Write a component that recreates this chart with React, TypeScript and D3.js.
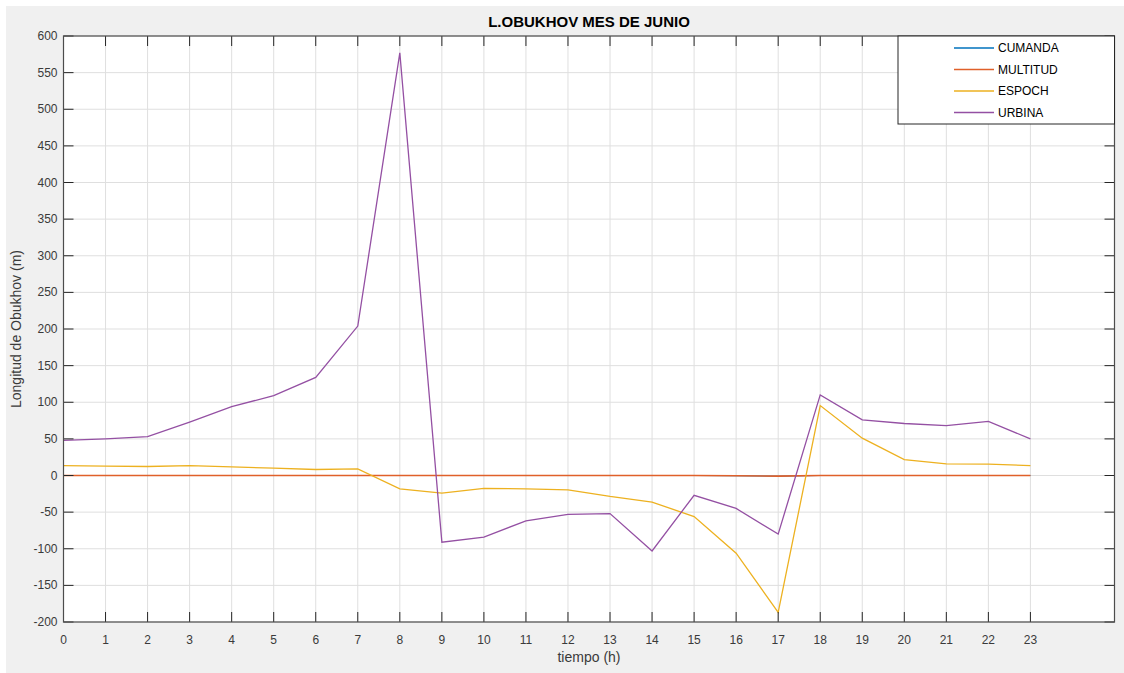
import React from 'react';
import * as d3 from 'd3';

// hours of the day
const hours = [0, 1, 2, 3, 4, 5, 6, 7, 8, 9, 10, 11, 12, 13, 14, 15, 16, 17, 18, 19, 20, 21, 22, 23];

// Obukhov length (m) per station
const cumanda = [0, 0, 0, 0, 0, 0, 0, 0, 0, 0, 0, 0, 0, 0, 0, 0, -0.4, -0.9, 0, 0, 0, 0, 0, 0];
const multitud = [0, 0, 0, 0, 0, 0, 0, 0, 0, 0, 0, 0, 0, 0, 0, 0, -0.4, -0.9, 0, 0, 0, 0, 0, 0];
const espoch = [13.6, 12.7, 12.3, 13.6, 11.8, 10, 8.2, 9.1, -18.2, -24, -17.7, -18.2, -19.5, -28.6, -36.4, -56, -106, -187, 95.5, 51, 21.8, 16, 15.5, 13.6];
const urbina = [48, 50, 53, 73, 94, 109, 134, 204, 577, -91, -84, -62, -53, -52, -103, -27, -45, -80, 110, 76, 71, 68, 74, 50];

const yTicks = [-200, -150, -100, -50, 0, 50, 100, 150, 200, 250, 300, 350, 400, 450, 500, 550, 600];

const series = [
  { name: 'CUMANDA', values: cumanda, color: '#0072BD', width: 1 },
  { name: 'MULTITUD', values: multitud, color: '#E0602A', width: 1.6 },
  { name: 'ESPOCH', values: espoch, color: '#EDB120', width: 1.3 },
  { name: 'URBINA', values: urbina, color: '#9450a3', width: 1.3 },
];

const W = 1124;
const H = 673;
const margin = { top: 36, right: 9.5, bottom: 51, left: 63.5 };
const font = 'Liberation Sans, Arial, Helvetica, sans-serif';
const axisColor = '#262626';

const App = () => {
  const x = d3.scaleLinear().domain([0, 25]).range([margin.left, W - margin.right]);
  const y = d3.scaleLinear().domain([-200, 600]).range([H - margin.bottom, margin.top]);
  const line = d3.line<number>()
    .x((_, i) => x(hours[i]))
    .y(d => y(d));

  const x0 = x.range()[0], x1 = x.range()[1];
  const y0 = y.range()[0], y1 = y.range()[1];
  const tickLen = 10;

  // legend box
  const lg = { x: 898, y: y1, w: x1 - 898, h: 88 };

  return (
    <div style={{ position: 'absolute', left: 0, top: 0 }}>
      <svg width={W} height={H} style={{ display: 'block' }} fontFamily={font}>
        <rect x={0} y={0} width={W} height={H} fill="#ffffff" />
        <rect x={6} y={6} width={W - 6} height={H - 6} fill="#f0f0f0" />
        <rect x={x0} y={y1} width={x1 - x0} height={y0 - y1} fill="#ffffff" />

        {/* grid */}
        <g stroke="#dfdfdf" strokeWidth={1}>
          {hours.map(h => (
            <line key={'gx' + h} x1={x(h)} x2={x(h)} y1={y0} y2={y1} />
          ))}
          {yTicks.map(t => (
            <line key={'gy' + t} x1={x0} x2={x1} y1={y(t)} y2={y(t)} />
          ))}
        </g>

        {/* data lines */}
        {series.map(s => (
          <path key={s.name} d={line(s.values) || ''} fill="none" stroke={s.color} strokeWidth={s.width} />
        ))}

        {/* ticks */}
        <g stroke={axisColor} strokeWidth={1}>
          {hours.map(h => (
            <g key={'tx' + h}>
              <line x1={x(h)} x2={x(h)} y1={y0} y2={y0 - tickLen} />
              <line x1={x(h)} x2={x(h)} y1={y1} y2={y1 + tickLen} />
            </g>
          ))}
          {yTicks.map(t => (
            <g key={'ty' + t}>
              <line x1={x0} x2={x0 + tickLen} y1={y(t)} y2={y(t)} />
              <line x1={x1} x2={x1 - tickLen} y1={y(t)} y2={y(t)} />
            </g>
          ))}
        </g>

        {/* box */}
        <rect x={x0} y={y1} width={x1 - x0} height={y0 - y1} fill="none" stroke="#4d4d4d" strokeWidth={1.2} />

        {/* tick labels */}
        <g fill="#3a3a3a" fontSize={12}>
          {hours.map(h => (
            <text key={'lx' + h} x={x(h)} y={y0 + 22} textAnchor="middle">{h}</text>
          ))}
          {yTicks.map(t => (
            <text key={'ly' + t} x={x0 - 6} y={y(t) + 4} textAnchor="end">{t}</text>
          ))}
        </g>

        {/* labels */}
        <text x={(x0 + x1) / 2} y={26.5} textAnchor="middle" fontSize={15} fontWeight="bold" fill="#000">
          L.OBUKHOV MES DE JUNIO
        </text>
        <text x={(x0 + x1) / 2} y={662} textAnchor="middle" fontSize={14} fill="#3a3a3a">
          tiempo (h)
        </text>
        <text transform={`translate(21, ${(y0 + y1) / 2}) rotate(-90)`} textAnchor="middle" fontSize={14} fill="#3a3a3a">
          Longitud de Obukhov (m)
        </text>

        {/* legend */}
        <rect x={lg.x} y={lg.y} width={lg.w} height={lg.h} fill="#ffffff" stroke={axisColor} strokeWidth={1} />
        {series.map((s, i) => {
          const ly = lg.y + 12 + i * 21.5;
          return (
            <g key={'lg' + s.name}>
              <line x1={954} x2={994} y1={ly} y2={ly} stroke={s.color} strokeWidth={1.3} />
              <text x={998} y={ly + 4.3} fontSize={12} fill="#000">{s.name}</text>
            </g>
          );
        })}
      </svg>
    </div>
  );
};

export default App;
